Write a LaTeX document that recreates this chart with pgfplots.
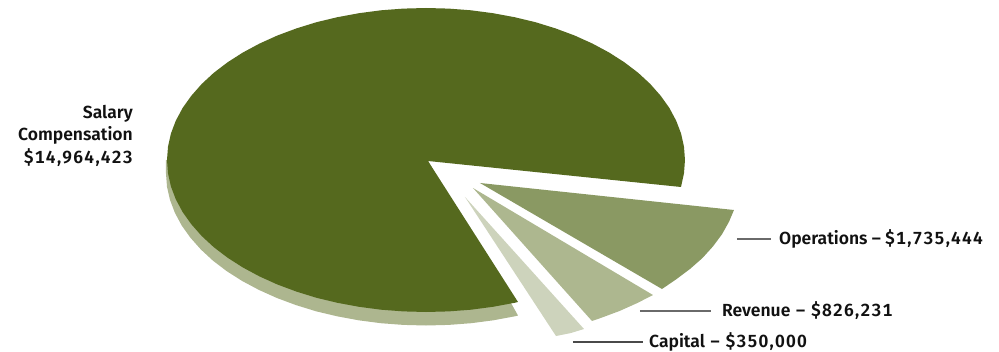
\documentclass[border=0pt]{standalone}
\usepackage{pgfplots}
\usepackage{fontspec}
\pgfplotsset{compat=1.18}
\setmainfont{Fira Sans}[BoldFont={Fira Sans SemiBold}, Numbers={Lining,Monospaced}]
\newfontfamily\amountfont{Fira Sans SemiBold}[Numbers={Lining,Monospaced}, LetterSpace=7]
\newcommand{\amount}[1]{{\amountfont\mdseries #1}}
\definecolor{salary}{HTML}{55691E}
\definecolor{salaryedge}{HTML}{ADB68F}
\definecolor{operations}{HTML}{8A9963}
\definecolor{revenue}{HTML}{ADB78F}
\definecolor{capital}{HTML}{CDD3BC}
\definecolor{leader}{HTML}{6A6A6A}
\definecolor{ink}{HTML}{111111}
\tikzset{lab/.style={inner sep=0pt, text=ink, font=\fontsize{17.5bp}{22.5bp}\selectfont\bfseries}}
\begin{document}
\begin{tikzpicture}
\path (0,0) rectangle (999bp,351bp);
\begin{axis}[
  at={(0,0)}, anchor=south west,
  scale only axis, width=999bp, height=351bp,
  xmin=0, xmax=999, ymin=0, ymax=351, y dir=reverse,
  hide axis, clip=false,
  every axis plot/.append style={draw=none, mark=none},
]
% extruded rim under the main slice
\addplot[fill=salaryedge] coordinates {
(166,173.5)(167,186.8)(170,199.9)(174.9,212.8)(181.7,225.5)(190.4,237.7)
(200.9,249.5)(213,260.7)(226.8,271.2)(242.2,281)(258.9,289.9)(276.9,298)
(296,305.1)(316.1,311.3)(337.1,316.3)(358.7,320.3)(380.8,323.2)(403.3,324.9)
(426,325.5)(448.7,324.9)(471.2,323.2)(493.3,320.3)(514.9,316.3)(518,315.5)
(511,303)(428,161)(166,160)} -- cycle;
% main slice
\addplot[fill=salary] coordinates {
(428,161)(681,187)(684,173.3)(685,160)(684,146.7)(681.1,133.6)(676.2,120.7)
(669.4,108)(660.7,95.8)(650.3,84)(638.2,72.8)(624.4,62.3)(609.1,52.5)
(592.5,43.6)(574.6,35.5)(555.5,28.4)(535.5,22.2)(514.6,17.2)(493,13.2)
(471,10.3)(448.6,8.6)(426,8)(403.4,8.6)(381,10.3)(359,13.2)(337.4,17.2)
(316.5,22.2)(296.5,28.4)(277.4,35.5)(259.5,43.6)(242.9,52.5)(227.6,62.3)
(213.8,72.8)(201.7,84)(191.3,95.8)(182.6,108)(175.8,120.7)(170.9,133.6)
(168,146.7)(167,160)(168,173.3)(170.9,186.4)(175.8,199.3)(182.6,212)
(191.3,224.2)(201.7,236)(213.8,247.2)(227.6,257.7)(242.9,267.5)(259.5,276.4)
(277.4,284.5)(296.5,291.6)(316.5,297.8)(337.4,302.8)(359,306.8)(381,309.7)
(403.4,311.4)(426,312)(448.6,311.4)(471,309.7)(493,306.8)(514.6,302.8)
(518,302)} -- cycle;
% operations
\addplot[fill=operations] coordinates {
(480,183)(734,210)(729,221.8)(722,234.3)(713,246.4)(702.5,258)(690,269)
(676.1,279.4)(662,289)} -- cycle;
% revenue
\addplot[fill=revenue] coordinates {
(473,188)(653,295)(637.6,302.9)(619.8,310.9)(601,317.9)(592,321)} -- cycle;
% capital
\addplot[fill=capital] coordinates {
(465,197)(584,329)(571,333)(556,336)} -- cycle;
% leader lines
\addplot[draw=leader, line width=2bp] coordinates {(737,238.7)(771,238.7)};
\addplot[draw=leader, line width=2bp] coordinates {(640,310.7)(711,310.7)};
\addplot[draw=leader!70!black, line width=1.8bp] coordinates {(573,341.7)(643,341.7)};
% labels
\node[lab, anchor=west] at (axis cs:779,238.5) {Operations – \amount{\$1,735,444}};
\node[lab, anchor=west] at (axis cs:722,310.5) {Revenue\hspace{1.5bp} –\hspace{1.5bp} \amount{\$826,231}};
\node[lab, anchor=west] at (axis cs:649,342) {Capital\hspace{1.5bp} –\hspace{1.5bp} \amount{\$350,000}};
\node[lab, anchor=east, align=right] at (axis cs:133,135.5)
  {Salary\\Compensation\\\amount{\$14,964,423}};
\end{axis}
\end{tikzpicture}
\end{document}
